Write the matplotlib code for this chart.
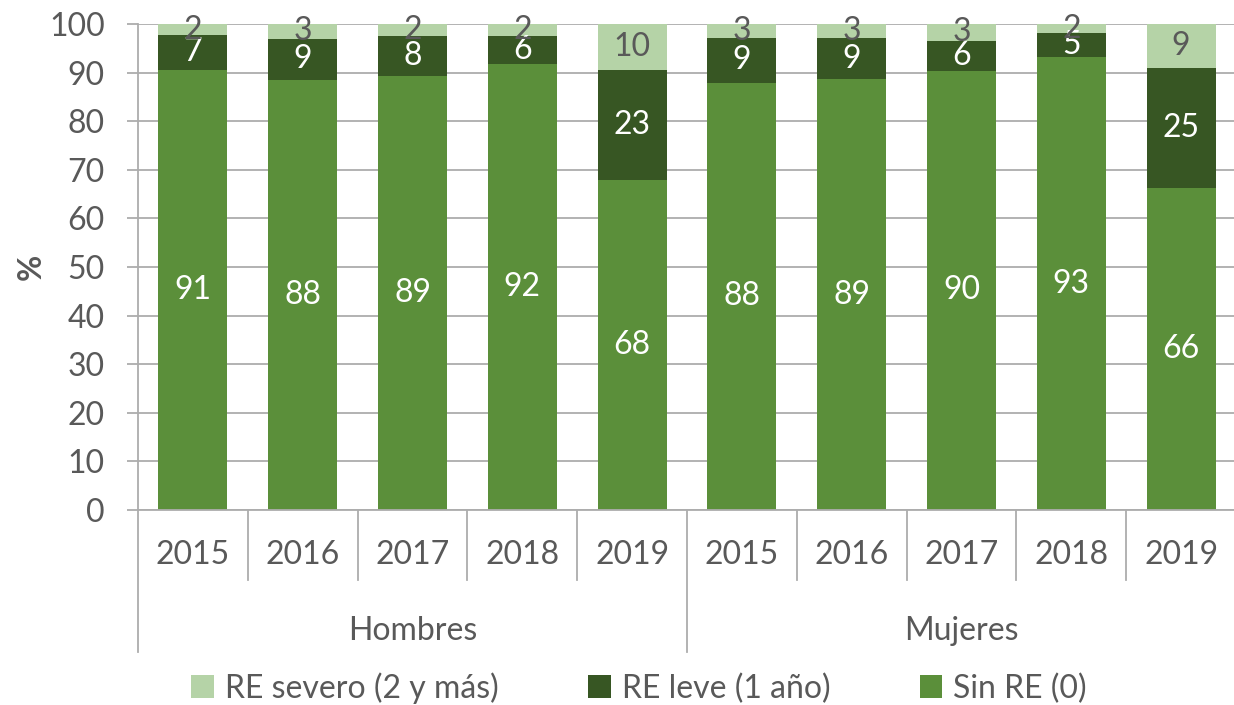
import matplotlib
matplotlib.use("Agg")
import matplotlib.pyplot as plt
import numpy as np

plt.rcParams['font.family'] = ['Lato', 'DejaVu Sans']

years = ["2015", "2016", "2017", "2018", "2019"]
groups = ["Hombres", "Mujeres"]
series_names = ["RE severo (2 y más)", "RE leve (1 año)", "Sin RE (0)"]

# Hombres 2015-2019 then Mujeres 2015-2019
sin_re = [90.6, 88.4, 89.4, 91.8, 67.8, 87.9, 88.6, 90.4, 93.2, 66.3]
leve = [7.1, 8.6, 8.2, 5.8, 22.7, 9.2, 8.6, 6.2, 4.9, 24.7]
severo = [2.3, 3.0, 2.4, 2.4, 9.5, 2.9, 2.8, 3.4, 1.9, 9.0]

c_sin = "#5B8F3A"
c_leve = "#375623"
c_sev = "#B5D3A7"
txt = "#595959"
grid_c = "#ADADAD"

fig = plt.figure(figsize=(12.34, 7.05), dpi=100)
ax = fig.add_axes([138 / 1234, 1 - 510 / 705, 1098 / 1234, 486 / 705])

n = len(sin_re)
x = np.arange(n)
w = 0.63
sin_re = np.array(sin_re)
leve = np.array(leve)
severo = np.array(severo)

b1 = ax.bar(x, sin_re, w, color=c_sin, zorder=2, label=series_names[2])
b2 = ax.bar(x, leve, w, bottom=sin_re, color=c_leve, zorder=2, label=series_names[1])
b3 = ax.bar(x, severo, w, bottom=sin_re + leve, color=c_sev, zorder=2, label=series_names[0])

for bars, col in [(b1, "white"), (b2, "white"), (b3, txt)]:
    ax.bar_label(bars, labels=["%.0f" % b.get_height() for b in bars],
                 label_type="center", color=col, fontsize=23)

ax.set_xlim(-0.5, n - 0.5)
ax.set_ylim(0, 100)
ax.set_yticks(range(0, 101, 10))
ax.yaxis.grid(True, color=grid_c, lw=1.3, zorder=0)
ax.tick_params(axis="y", length=8, width=1.3, color=grid_c, pad=16,
               labelsize=23, labelcolor=txt)
ax.set_xticks([])
for s in ["top", "right"]:
    ax.spines[s].set_visible(False)
for s in ["left", "bottom"]:
    ax.spines[s].set_color(grid_c)
    ax.spines[s].set_linewidth(1.3)
ax.set_ylabel("%", fontsize=23, fontweight="bold", color=txt, labelpad=2)

# two-level category axis
trans = ax.get_xaxis_transform()
for i in range(n):
    ax.text(x[i], -0.093, years[i % 5], transform=trans, ha="center", va="center",
            fontsize=23, color=txt)
for i in range(1, n):
    y_end = -0.292 if i % 5 == 0 else -0.144
    ax.plot([i - 0.5, i - 0.5], [0, y_end], transform=trans, color=grid_c,
            lw=1.3, clip_on=False)
ax.plot([-0.5, -0.5], [0, -0.292], transform=trans, color=grid_c, lw=1.3, clip_on=False)
for g, name in enumerate(groups):
    ax.text(g * 5 + 2, -0.25, name, transform=trans, ha="center", va="center",
            fontsize=23, color=txt)

handles = [b3, b2, b1]
leg = fig.legend(handles, series_names, loc="center", ncol=3,
                 bbox_to_anchor=(0.518, 1 - 688 / 705), frameon=False,
                 fontsize=23, handlelength=0.7, handleheight=0.7,
                 handletextpad=0.35, columnspacing=2.8)
for t in leg.get_texts():
    t.set_color(txt)

fig.savefig("out.png", dpi=100)
